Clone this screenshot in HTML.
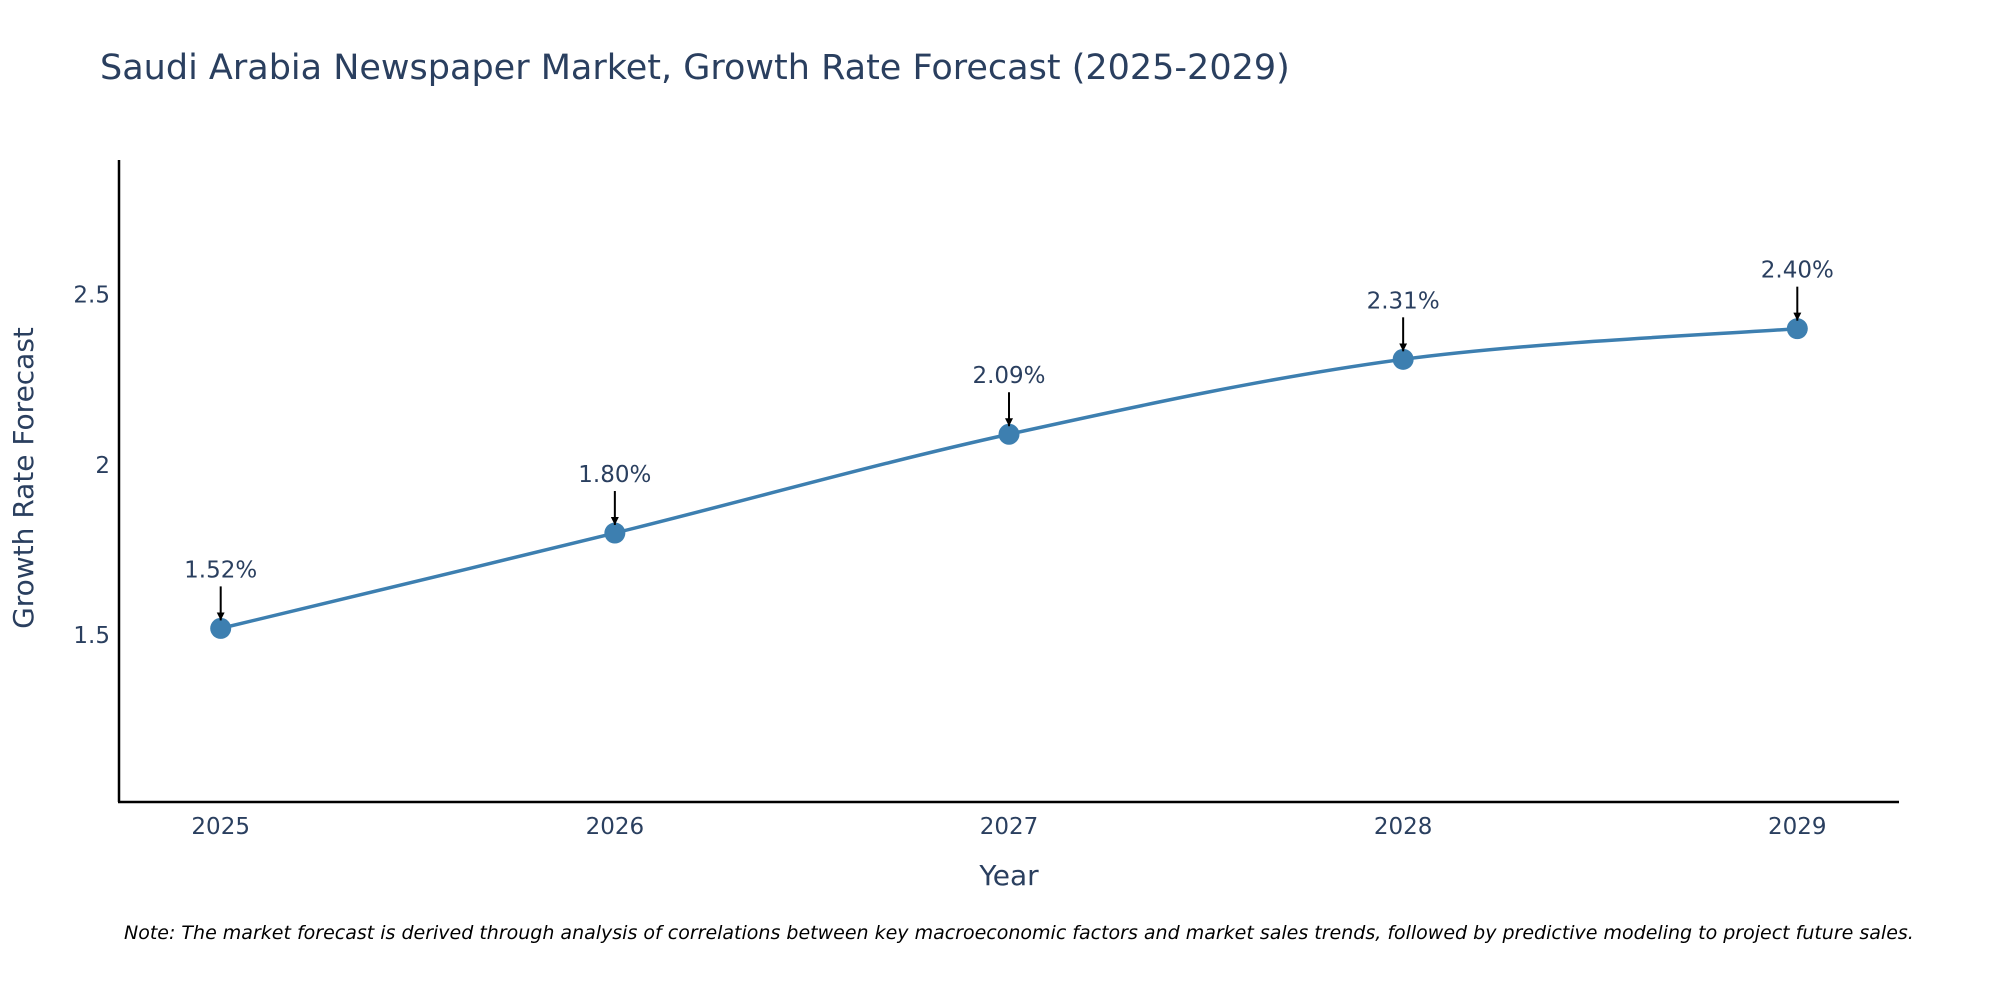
<!DOCTYPE html>
<html><head><meta charset="utf-8">
<style>
html,body{margin:0;padding:0;background:#fff;width:2000px;height:1000px;overflow:hidden}
svg text{font-family:"DejaVu Sans","Liberation Sans",sans-serif;fill:#2a3f5f}
</style></head>
<body>
<svg id="chart" width="2000" height="1000" xmlns="http://www.w3.org/2000/svg">
<defs>
<marker id="ah" viewBox="0 0 10 10" refX="10" refY="5" markerWidth="8" markerHeight="8" markerUnits="userSpaceOnUse" orient="auto"><path d="M0,0 L10,5 L0,10 z" fill="#000"/></marker>
</defs>
<text x="100" y="79" font-size="35">Saudi Arabia Newspaper Market, Growth Rate Forecast (2025-2029)</text>
<line x1="119" y1="160" x2="119" y2="802" stroke="#000" stroke-width="2.5"/>
<line x1="118" y1="802" x2="1899" y2="802" stroke="#000" stroke-width="2.5"/>
<g id="yticks"></g><g id="xticks"></g>
<path id="line" fill="none" stroke="#3d7fb0" stroke-width="3.5"/>
<g id="points"></g><g id="annots"></g>
<text x="25" y="478" font-size="28" text-anchor="middle" transform="rotate(-90 25 478)" dominant-baseline="middle">Growth Rate Forecast</text>
<text x="1009" y="885" font-size="28" text-anchor="middle">Year</text>
<text x="124" y="939" font-size="19" font-style="italic" style="fill:#000">Note: The market forecast is derived through analysis of correlations between key macroeconomic factors and market sales trends, followed by predictive modeling to project future sales.</text>
</svg>
<script>
const years = [2025, 2026, 2027, 2028, 2029];
const values = [1.52, 1.80, 2.09, 2.31, 2.40];
const labels = ["1.52%", "1.80%", "2.09%", "2.31%", "2.40%"];
const yTicks = [1.5, 2, 2.5];
const yTickLabels = ["1.5", "2", "2.5"];

const NS = "http://www.w3.org/2000/svg";
function xs(v){ return 220.7 + (v - 2025) * (1797.3 - 220.7) / 4; }
function ys(v){ return 635.2 - (v - 1.5) * 340.6; }
function mk(tag, attrs){ const e=document.createElementNS(NS,tag); for(const k in attrs) e.setAttribute(k,attrs[k]); return e; }

const yg=document.getElementById('yticks');
yTicks.forEach((t,i)=>{
  const e=mk('text',{x:110,y:ys(t)+8,'font-size':23,'text-anchor':'end'});
  
  
  e.textContent=yTickLabels[i]; yg.appendChild(e);
});
const xg=document.getElementById('xticks');
years.forEach(y=>{
  const e=mk('text',{x:xs(y),y:834,'font-size':23,'text-anchor':'middle'});
  
  
  e.textContent=String(y); xg.appendChild(e);
});

const pts=years.map((y,i)=>[xs(y),ys(values[i])]);
let d=`M${pts[0][0]},${pts[0][1]}`;
const s=1/6;
for(let i=0;i<pts.length-1;i++){
  const p0=pts[Math.max(i-1,0)],p1=pts[i],p2=pts[i+1],p3=pts[Math.min(i+2,pts.length-1)];
  const c1=[p1[0]+(p2[0]-p0[0])*s,p1[1]+(p2[1]-p0[1])*s];
  const c2=[p2[0]-(p3[0]-p1[0])*s,p2[1]-(p3[1]-p1[1])*s];
  d+=` C${c1[0]},${c1[1]} ${c2[0]},${c2[1]} ${p2[0]},${p2[1]}`;
}
document.getElementById('line').setAttribute('d',d);

const pg=document.getElementById('points'), ag=document.getElementById('annots');
pts.forEach((p,i)=>{
  const c=mk('circle',{cx:p[0],cy:p[1],r:10.5,fill:'#3d7fb0'});
  
  
  pg.appendChild(c);
  const a=mk('line',{x1:p[0],y1:p[1]-42,x2:p[0],y2:p[1]-8,stroke:'#000','stroke-width':2,'marker-end':'url(#ah)'});
  
  
  ag.appendChild(a);
  const t=mk('text',{x:p[0],y:p[1]-51,'font-size':23,'text-anchor':'middle'});
  
  
  t.textContent=labels[i]; ag.appendChild(t);
});
</script>
</body></html>
